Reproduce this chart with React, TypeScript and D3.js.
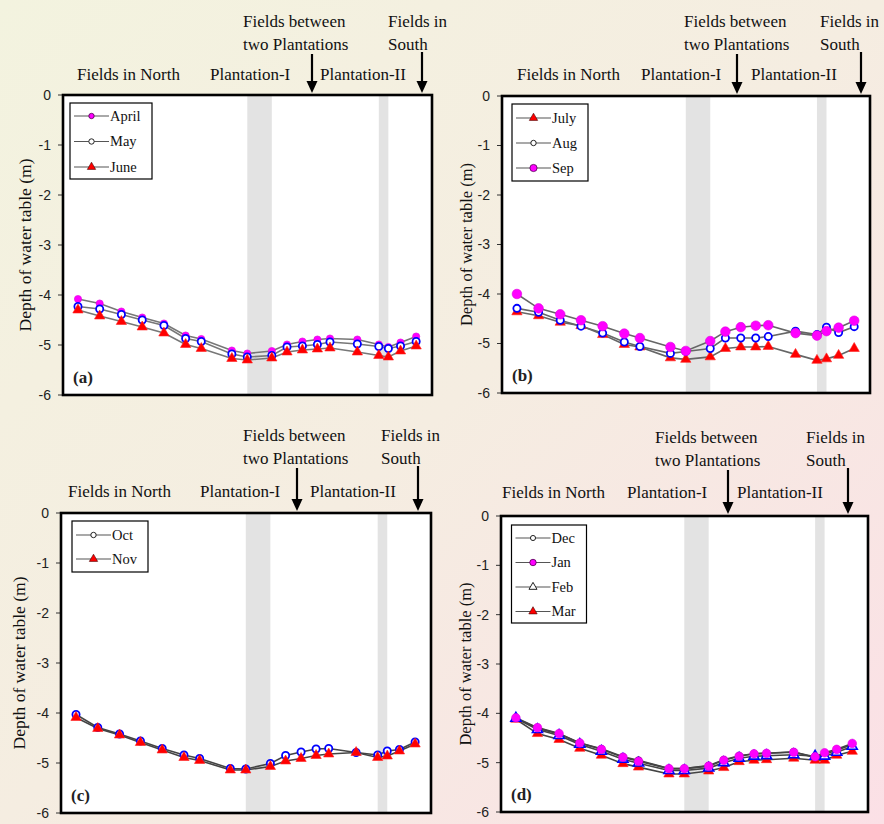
import { useEffect } from 'react';
import * as d3 from 'd3';

// station positions along the transect (same for all panels)
const stations = [0.69, 1.69, 2.69, 3.65, 4.65, 5.65, 6.37, 7.78, 8.49, 9.62, 10.32, 11.03, 11.72, 12.3, 13.56, 14.55, 14.99, 15.55, 16.27];
// plantation strips, as pairs of station indices
const plantationBands = [[8, 9], [15, 16]];
const yTicks = [0, -1, -2, -3, -4, -5, -6];

// (a)
const april = [-4.08, -4.17, -4.33, -4.45, -4.57, -4.81, -4.88, -5.11, -5.17, -5.12, -4.99, -4.93, -4.89, -4.87, -4.89, -4.99, -5.04, -4.95, -4.83];
const may = [-4.23, -4.28, -4.39, -4.5, -4.61, -4.87, -4.93, -5.18, -5.24, -5.21, -5.04, -5.02, -4.99, -4.94, -4.98, -5.03, -5.07, -5.02, -4.93];
const june = [-4.3, -4.42, -4.53, -4.64, -4.76, -4.99, -5.07, -5.27, -5.3, -5.26, -5.14, -5.1, -5.08, -5.06, -5.14, -5.21, -5.24, -5.12, -5.02];
// (b)
const july = [-4.36, -4.44, -4.57, -4.64, -4.82, -5.02, -5.07, -5.29, -5.32, -5.27, -5.1, -5.07, -5.07, -5.06, -5.22, -5.34, -5.31, -5.24, -5.1];
const aug = [-4.29, -4.37, -4.53, -4.65, -4.79, -4.97, -5.06, -5.2, -5.16, -5.1, -4.89, -4.89, -4.89, -4.86, -4.75, -4.82, -4.67, -4.78, -4.66];
const sep = [-4.0, -4.29, -4.41, -4.53, -4.65, -4.8, -4.89, -5.07, -5.15, -4.95, -4.76, -4.67, -4.64, -4.63, -4.79, -4.84, -4.75, -4.68, -4.54];
// (c)
const oct = [-4.03, -4.29, -4.42, -4.56, -4.71, -4.84, -4.91, -5.11, -5.12, -5.01, -4.85, -4.78, -4.72, -4.71, -4.79, -4.84, -4.76, -4.73, -4.58];
const nov = [-4.09, -4.31, -4.44, -4.59, -4.74, -4.89, -4.95, -5.14, -5.14, -5.07, -4.96, -4.91, -4.85, -4.82, -4.79, -4.89, -4.86, -4.76, -4.62];
// (d)
const dec = [-4.1, -4.3, -4.42, -4.6, -4.72, -4.88, -4.95, -5.12, -5.12, -5.06, -4.94, -4.86, -4.82, -4.81, -4.78, -4.9, -4.83, -4.75, -4.63];
const jan = [-4.09, -4.29, -4.41, -4.6, -4.73, -4.89, -4.97, -5.12, -5.12, -5.07, -4.95, -4.87, -4.82, -4.81, -4.79, -4.88, -4.8, -4.73, -4.61];
const feb = [-4.1, -4.33, -4.45, -4.63, -4.77, -4.93, -5.01, -5.16, -5.16, -5.11, -5.0, -4.91, -4.87, -4.86, -4.84, -4.87, -4.87, -4.79, -4.67];
const mar = [-4.12, -4.41, -4.53, -4.71, -4.85, -5.02, -5.09, -5.23, -5.23, -5.17, -5.1, -4.98, -4.95, -4.94, -4.91, -4.95, -4.95, -4.85, -4.77];

const serif = '"Liberation Serif", "Times New Roman", serif';
const sans = '"Liberation Sans", Arial, sans-serif';

type Kind = 'dot' | 'open' | 'tri' | 'openTri' | 'openBlack';
type Series = { name: string; values: number[]; kind: Kind };

const panels = [
  {
    tag: '(a)', left: 63, top: 95, width: 369, height: 300, labelSize: 17.5, labelX: -32, dot: 3.6, lineColor: '#777',
    legend: { x: 7, y: 8, w: 82, h: 76, first: 13, step: 25.5 },
    series: [
      { name: 'April', values: april, kind: 'dot' },
      { name: 'May', values: may, kind: 'open' },
      { name: 'June', values: june, kind: 'tri' },
    ] as Series[],
    notes: { between: 180, betweenArrow: 249, south: 325, southArrow: 359, line1: -68, line2: -45, row: -15, north: 14, p1: 147, p2: 257 },
  },
  {
    tag: '(b)', left: 502, top: 96, width: 368, height: 297, labelSize: 16.5, labelX: -30, dot: 4.8, lineColor: '#666',
    legend: { x: 10, y: 8, w: 76, h: 77, first: 14, step: 25 },
    series: [
      { name: 'July', values: july, kind: 'tri' },
      { name: 'Aug', values: aug, kind: 'open' },
      { name: 'Sep', values: sep, kind: 'dot' },
    ] as Series[],
    notes: { between: 182, betweenArrow: 235, south: 318, southArrow: 359, line1: -69, line2: -46, row: -16, north: 15, p1: 139, p2: 249 },
  },
  {
    tag: '(c)', left: 61, top: 513, width: 370, height: 300, labelSize: 17.5, labelX: -36, dot: 4, lineColor: '#444',
    legend: { x: 11, y: 8, w: 76, h: 51, first: 14, step: 24 },
    series: [
      { name: 'Oct', values: oct, kind: 'open' },
      { name: 'Nov', values: nov, kind: 'tri' },
    ] as Series[],
    notes: { between: 182, betweenArrow: 236, south: 320, southArrow: 357, line1: -72, line2: -49, row: -16, north: 7, p1: 139, p2: 249 },
  },
  {
    tag: '(d)', left: 501, top: 516, width: 367, height: 296, labelSize: 16.5, labelX: -30, dot: 4.3, lineColor: '#444',
    legend: { x: 10.5, y: 9, w: 75, h: 98, first: 13, step: 24.5 },
    series: [
      { name: 'Dec', values: dec, kind: 'openBlack' },
      { name: 'Mar', values: mar, kind: 'tri' },
      { name: 'Feb', values: feb, kind: 'openTri' },
      { name: 'Jan', values: jan, kind: 'dot' },
    ] as Series[],
    legendOrder: ['Dec', 'Jan', 'Feb', 'Mar'],
    notes: { between: 154, betweenArrow: 227, south: 305, southArrow: 347, line1: -73, line2: -50, row: -18, north: 1, p1: 126, p2: 236 },
  },
];

const triPath = (size: number) => d3.symbol().type(d3.symbolTriangle).size(size)() as string;

function Marker({ kind, x, y, dot, legend }: { kind: Kind; x: number; y: number; dot: number; legend?: boolean }) {
  const s = legend ? 0.75 : 1;
  if (kind === 'dot') {
    return <circle cx={x} cy={y} r={dot * s} fill="#ff00ff" stroke={legend ? '#500050' : '#e000e0'} strokeWidth={legend ? 0.8 : 0.6} />;
  }
  if (kind === 'open') {
    return <circle cx={x} cy={y} r={3.6 * s} fill="#fff" stroke={legend ? '#222' : '#0000ff'} strokeWidth={legend ? 1 : 1.8} />;
  }
  if (kind === 'openBlack') {
    return <circle cx={x} cy={y} r={3.4 * s} fill="#fff" stroke="#222" strokeWidth={1} />;
  }
  if (kind === 'openTri') {
    return <path d={triPath(legend ? 28 : 44)} transform={`translate(${x},${y})`} fill="#fff" stroke={legend ? '#222' : '#0000ff'} strokeWidth={legend ? 1 : 1.6} />;
  }
  return <path d={triPath(legend ? 30 : 46)} transform={`translate(${x},${y})`} fill="#ff0000" stroke={legend ? '#400000' : '#ff2020'} strokeWidth={0.6} />;
}

function Arrow({ x, y1, y2 }: { x: number; y1: number; y2: number }) {
  return (
    <g>
      <line x1={x} x2={x} y1={y1} y2={y2 - 10} stroke="#000" strokeWidth={2.2} />
      <path d={`M${x - 5.5},${y2 - 12}L${x + 5.5},${y2 - 12}L${x},${y2}Z`} fill="#000" />
    </g>
  );
}

function Panel({ p }: { p: (typeof panels)[number] }) {
  const x = d3.scaleLinear().domain([0, 17]).range([0, p.width]);
  const y = d3.scaleLinear().domain([0, -6]).range([0, p.height]);
  const line = d3.line<number>().x((_, i) => x(stations[i])).y(d => y(d));
  const n = p.notes;
  const byName = new Map(p.series.map(s => [s.name, s]));
  const legendSeries = (p.legendOrder ?? p.series.map(s => s.name)).map(k => byName.get(k)!);
  return (
    <g transform={`translate(${p.left},${p.top})`}>
      {/* annotations above the plot */}
      <g fontFamily={serif} fontSize={17} fill="#111">
        <text x={n.between} y={n.line1}>Fields between</text>
        <text x={n.between} y={n.line2}>two Plantations</text>
        <text x={n.south} y={n.line1}>Fields in</text>
        <text x={n.south} y={n.line2}>South</text>
        <text x={n.north} y={n.row}>Fields in North</text>
        <text x={n.p1} y={n.row}>Plantation-I</text>
        <text x={n.p2} y={n.row}>Plantation-II</text>
      </g>
      <Arrow x={n.betweenArrow} y1={n.line2 + 4} y2={-2} />
      <Arrow x={n.southArrow} y1={n.line2 + 2} y2={-2} />

      <rect x={0} y={0} width={p.width} height={p.height} fill="#fff" />
      {plantationBands.map(([a, b], i) => (
        <rect key={i} x={x(stations[a])} y={0} width={x(stations[b]) - x(stations[a])} height={p.height} fill="#e3e3e3" />
      ))}

      {/* y axis */}
      <g fontFamily={sans} fontSize={14} fill="#222">
        {yTicks.map(t => (
          <g key={t} transform={`translate(0,${y(t)})`}>
            <line x1={-5} x2={0} stroke="#333" strokeWidth={1} />
            <text x={-12} dy="0.35em" textAnchor="end">{t}</text>
          </g>
        ))}
      </g>
      <text
        transform={`translate(${p.labelX},${p.height / 2}) rotate(-90)`}
        textAnchor="middle"
        fontFamily={serif}
        fontSize={p.labelSize}
        fill="#111"
      >
        Depth of water table (m)
      </text>

      {p.series.map(s => (
        <path key={s.name} d={line(s.values) as string} fill="none" stroke={p.lineColor} strokeWidth={1.6} />
      ))}
      {p.series.map(s => (
        <g key={s.name}>
          {s.values.map((v, i) => (
            <Marker key={i} kind={s.kind} x={x(stations[i])} y={y(v)} dot={p.dot} />
          ))}
        </g>
      ))}

      {/* legend */}
      <g transform={`translate(${p.legend.x},${p.legend.y})`}>
        <rect width={p.legend.w} height={p.legend.h} fill="#fff" stroke="#000" strokeWidth={1.2} />
        {legendSeries.map((s, i) => {
          const cy = p.legend.first + i * p.legend.step;
          return (
            <g key={s.name}>
              <line x1={4} x2={39} y1={cy} y2={cy} stroke="#555" strokeWidth={1.2} />
              <Marker kind={s.kind} x={21.5} y={cy} dot={p.dot} legend />
              <text x={40} y={cy} dy="0.33em" fontFamily={serif} fontSize={14.5} fill="#111">{s.name}</text>
            </g>
          );
        })}
      </g>

      <text x={10} y={p.height - 12} fontFamily={serif} fontSize={17} fontWeight="bold" fill="#222">{p.tag}</text>
      <rect x={0} y={0} width={p.width} height={p.height} fill="none" stroke="#000" strokeWidth={2.6} />
    </g>
  );
}

export default function App() {
  useEffect(() => {
    document.body.style.margin = '0';
  }, []);
  return (
    <svg width={884} height={824} style={{ display: 'block' }}>
      <defs>
        <linearGradient id="bg" x1="0" y1="0" x2="1" y2="1">
          <stop offset="0" stopColor="#f3f3df" />
          <stop offset="0.5" stopColor="#f5ede1" />
          <stop offset="1" stopColor="#fbe0e6" />
        </linearGradient>
      </defs>
      <rect width={884} height={824} fill="url(#bg)" />
      {panels.map(p => <Panel key={p.tag} p={p} />)}
    </svg>
  );
}
